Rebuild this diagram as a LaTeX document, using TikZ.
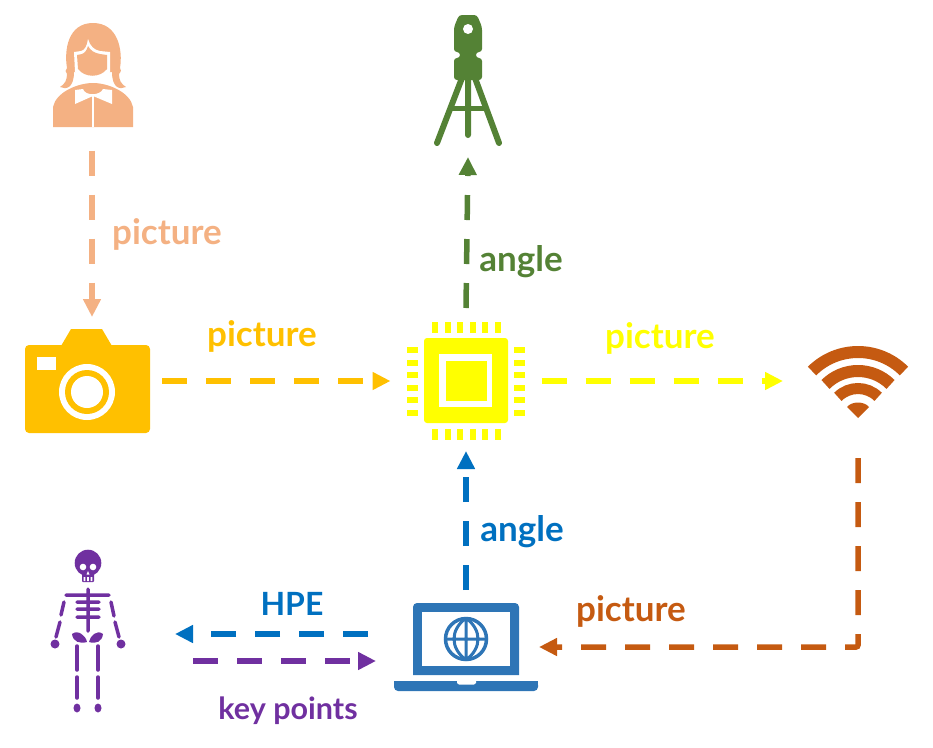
\documentclass[tikz,border=0pt]{standalone}
\usepackage{fontspec}
\setmainfont{Lato}
\usetikzlibrary{arrows.meta}
\definecolor{peach}{HTML}{F4B183}
\definecolor{gold}{HTML}{FFC000}
\definecolor{chipyellow}{HTML}{FFFF00}
\definecolor{moss}{HTML}{548235}
\definecolor{rust}{HTML}{C55A11}
\definecolor{azure}{HTML}{0070C0}
\definecolor{steel}{HTML}{2E75B6}
\definecolor{plum}{HTML}{7030A0}
\tikzset{
  iconbox/.style={inner sep=0pt,outer sep=0pt},
  flow/.style={line width=5.5pt,dash pattern=on 25pt off 19pt,-{Triangle[length=18pt,width=17pt]}},
  caption/.style={font=\fontsize{35}{35}\selectfont\bfseries,inner sep=0pt},
}
\begin{document}
\begin{tikzpicture}[x=1pt,y=-1pt]
  \useasboundingbox (0,0) rectangle (933,747);

  % icon boxes, connectors run between them
  \node[iconbox,minimum width=100pt,minimum height=167pt] (woman) at (92,67) {};
  \node[iconbox,minimum width=150pt,minimum height=128pt] (camera) at (87,381) {};
  \node[iconbox,minimum width=151pt,minimum height=146pt] (chip) at (466,381) {};
  \node[iconbox,minimum width=150pt,minimum height=118pt] (wifi) at (858,399) {};
  \node[iconbox,minimum width=80pt,minimum height=150pt] (station) at (468,82) {};
  \node[iconbox,minimum width=146pt,minimum height=112pt] (laptop) at (466,646) {};
  \node[iconbox,minimum width=176pt,minimum height=170pt] (skeleton) at (87,633) {};

  % woman
  \fill[peach] (67,68) .. controls (64,50) and (68,23) .. (93,23)
    .. controls (118,23) and (123,50) .. (120,68)
    .. controls (122,72) and (120,72) .. (119,74)
    .. controls (119,80) and (121,84) .. (126,87)
    .. controls (120,90) and (112,88) .. (112,72) -- (74,72)
    .. controls (74,88) and (66,90) .. (60,87)
    .. controls (65,84) and (67,80) .. (67,74)
    .. controls (65,72) and (65,70) .. (67,68) -- cycle;
  \fill[white] (74,52) -- (81,51) .. controls (85,50) and (87,46) .. (88,39)
    .. controls (90,46) and (94,50) .. (100,51) -- (110,52) -- (110,72)
    .. controls (104,81) and (82,81) .. (75,72) -- cycle;
  \fill[peach] (77,55) -- (82,54) .. controls (85,53) and (87,50) .. (88,46)
    .. controls (90,50) and (94,53) .. (100,54) -- (107,55) -- (107,69)
    .. controls (100,78) and (85,78) .. (78,69) -- cycle;
  \fill[peach] (53,127) -- (53,107) .. controls (56,92) and (78,83) .. (93,83)
    .. controls (108,83) and (130,92) .. (133,107) -- (133,127) -- cycle;
  \fill[white] (75,90) -- (83,89) .. controls (85,96) and (100,96) .. (103,89) -- (112,90)
    -- (112,104) -- (93,96) -- (75,104) -- cycle;
  \fill[white] (92,96) rectangle (94,127);

  % camera
  \fill[gold,rounded corners=4pt] (25,345) -- (150,345) -- (150,433) -- (25,433) -- cycle;
  \fill[gold] (61,346) -- (71,329) -- (102,329) -- (112,346) -- cycle;
  \fill[white] (37,357) rectangle (56,370);
  \fill[white] (87,392) circle (28pt);
  \fill[gold] (87,392) circle (22pt);
  \fill[white] (87,392) circle (16pt);

  % chip
  \fill[chipyellow,rounded corners=3pt] (424,338) rectangle (508,423);
  \fill[white] (439,354) rectangle (492,407);
  \fill[chipyellow] (446,361) rectangle (487,401);
  \foreach \i in {0,...,5}{
    \fill[chipyellow] (432+12.5*\i,322) rectangle ++(6,10.5);
    \fill[chipyellow] (432+12.5*\i,429) rectangle ++(6,10.5);
    \fill[chipyellow] (407,347+12.5*\i) rectangle ++(10.5,6);
    \fill[chipyellow] (514,347+12.5*\i) rectangle ++(10.5,6);
  }

  % total station
  \fill[moss,rounded corners=3pt] (454,80) -- (454,58) -- (460,58) -- (460,52) -- (454,52) -- (454,27)
    -- (459,15) -- (477,15) -- (482,27) -- (482,52) -- (476,52) -- (476,58) -- (482,58) -- (482,80) -- cycle;
  \fill[white] (468,29) circle (5pt);
  \draw[moss,line width=6pt,line cap=round] (462,78) -- (437,143) (475,78) -- (499,143) (468,78) -- (468,135);
  \draw[moss,line width=5pt] (452,108.5) -- (484,108.5);

  % wifi
  \foreach \r/\w in {65/12,46/12,28.5/11}
    \draw[rust,line width=\w pt] (858,417) ++(225:\r) arc (225:315:\r);
  \fill[rust] (858,418) -- (847,407) .. controls (852,401) and (864,401) .. (869,407) -- cycle;

  % laptop
  \fill[steel] (413,675) -- (413,607) arc (180:270:4) -- (515,603) arc (270:360:4) -- (519,675) -- cycle;
  \fill[white] (422,612) rectangle (510,666);
  \draw[steel,line width=3.5pt] (466,639) circle (20.5pt);
  \draw[steel,line width=3pt] (466,618) -- (466,660) (446,639) -- (487,639)
    (466,618) .. controls (450,630) and (450,648) .. (466,660)
    (466,618) .. controls (482,630) and (482,648) .. (466,660);
  \fill[steel,rounded corners=4pt] (394,681) -- (538,681) -- (538,691) -- (394,691) -- cycle;
  \fill[steel] (394,681) rectangle (538,685);
  \fill[white] (457,681) -- (476,681) -- (476,683) -- (474,684.5) -- (459,684.5) -- (457,683) -- cycle;

  % skeleton
  \fill[plum] (88,563) circle (13.3pt);
  \fill[plum,rounded corners=1pt] (82,570) rectangle (94,582);
  \fill[white] (83,567) circle (3.3pt) (93,567) circle (3.3pt);
  \fill[white] (88,571) -- (89.5,574.5) -- (86.5,574.5) -- cycle;
  \fill[white] (83.7,577) rectangle (85.3,581) (87.2,577) rectangle (88.8,581) (90.7,577) rectangle (92.3,581);
  \draw[plum,line width=3.5pt,line cap=round] (66,595) -- (109,595) (88,589) -- (88,631)
    (77,602) -- (99,602) (77,609) -- (99,609) (77,617) -- (99,617)
    (64,602) -- (61,615) (60,622) -- (56,637) (111,602) -- (114,616) (115,622) -- (119,637);
  \draw[plum,line width=3.5pt,line cap=round] (77,646) -- (77,670) (77,677) -- (77,698)
    (98,646) -- (98,670) (98,677) -- (98,698);
  \fill[plum] (55,644) circle (4.5pt) (121,644) circle (4.5pt);
  \fill[plum] (77,708) ellipse (3.5pt and 4.5pt) (98,708) ellipse (3.5pt and 4.5pt);
  \fill[plum] (72,634) .. controls (78,629) and (86,636) .. (87,642) .. controls (80,644) and (73,642) .. (72,634) -- cycle;
  \fill[plum] (103,634) .. controls (97,629) and (90,636) .. (89,642) .. controls (96,644) and (102,642) .. (103,634) -- cycle;

  % connectors
  \draw[flow,peach] (woman.south) -- (woman.south |- camera.north);
  \draw[flow,gold] (camera.east) -- (chip.west);
  \draw[flow,chipyellow] (chip.east) -- (wifi.west |- chip.east);
  \draw[flow,moss] (chip.north) -- (station.south);
  \draw[flow,azure,shorten >=-3pt] (laptop.north) -- (chip.south);
  \draw[flow,rust,rounded corners=2pt] (wifi.south) |- (laptop.east |- 0,647);
  \draw[flow,azure,shorten <=25pt] (laptop.west |- 0,634) -- (skeleton.east |- 0,634);
  \draw[flow,plum,shorten <=18pt,shorten >=17pt] (skeleton.east |- 0,661) -- (laptop.west |- 0,661);

  % labels
  \node[caption,text=peach] (l1) at (167,234) {picture};
  \node[caption,text=gold] (l2) at (262,336) {picture};
  \node[caption,text=chipyellow] (l3) at (660,338) {picture};
  \node[caption,text=moss] (l4) at (521,262) {angle};
  \node[caption,text=azure] (l5) at (522,532) {angle};
  \node[caption,text=rust] (l6) at (631,611) {picture};
  \node[caption,text=azure,font=\fontsize{32}{32}\selectfont\bfseries] (l7) at (292,604) {HPE};
  \node[caption,text=plum,font=\fontsize{30.5}{30.5}\selectfont\bfseries] (l8) at (288,711) {key points};
\end{tikzpicture}
\end{document}
